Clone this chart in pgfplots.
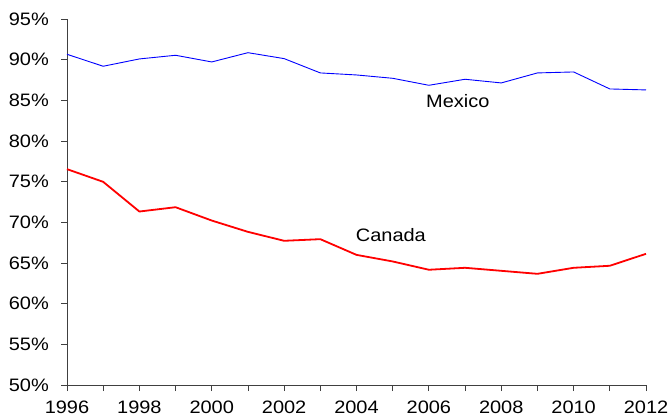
\documentclass[border=0pt]{standalone}
\usepackage{fontspec}
\setmainfont[FakeStretch=1.11]{Liberation Sans}
\usepackage{pgfplots}
\usetikzlibrary{calc}
\pgfplotsset{compat=1.18}
\begin{document}
\fontsize{18}{21}\selectfont
\begin{tikzpicture}
\begin{axis}[
  scale only axis,
  width=579pt, height=366pt,
  xmin=1996, xmax=2012, ymin=50, ymax=95,
  enlargelimits=false,
  axis lines*=left,
  axis line style={black!75, line width=0.8pt},
  tick style={black!75, line width=0.8pt},
  tick align=outside,
  major tick length=6pt, minor tick length=6pt,
  xtick={1996,1998,...,2012},
  minor xtick={1997,1999,...,2011},
  ytick={50,55,...,95},
  /pgf/number format/assume math mode=true,
  xticklabel style={font=\fontsize{18}{21}\selectfont, inner sep=0pt},
  yticklabel style={font=\fontsize{18}{21}\selectfont, inner sep=0pt},
  xticklabel shift=10pt,
  yticklabel shift=12pt,
  yticklabel={\pgfmathprintnumber{\tick}\%},
  xticklabel={\pgfmathprintnumber[1000 sep={}]{\tick}},
  xtick pos=bottom, ytick pos=left,
  clip=false,
]
\addplot[color={rgb,255:red,0;green,0;blue,255}, line width=0.9pt] coordinates {
(1996,90.66) (1997,89.19) (1998,90.09) (1999,90.54) (2000,89.72) (2001,90.86)
(2002,90.13) (2003,88.37) (2004,88.12) (2005,87.71) (2006,86.85) (2007,87.59)
(2008,87.14) (2009,88.37) (2010,88.49) (2011,86.40) (2012,86.28)};
\addplot[color={rgb,255:red,255;green,0;blue,0}, line width=1.8pt] coordinates {
(1996,76.54) (1997,74.98) (1998,71.33) (1999,71.86) (2000,70.22) (2001,68.83)
(2002,67.73) (2003,67.93) (2004,66.00) (2005,65.19) (2006,64.17) (2007,64.41)
(2008,64.04) (2009,63.67) (2010,64.41) (2011,64.66) (2012,66.13)};
\node[font=\fontsize{18}{21}\selectfont] at (axis cs:2006.8,84.93) {Mexico};
\node[font=\fontsize{18}{21}\selectfont] at (axis cs:2004.95,68.46) {Canada};
\coordinate (O) at (rel axis cs:0,0);
\end{axis}
\pgfresetboundingbox
\path[use as bounding box] ($(O)+(-67pt,-33pt)$) rectangle ($(O)+(604pt,385pt)$);
\end{tikzpicture}
\end{document}
